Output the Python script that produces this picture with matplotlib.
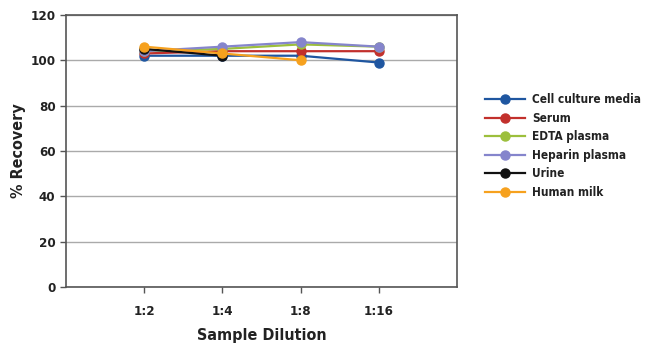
import numpy as np
import matplotlib.pyplot as plt

dilutions = ['1:2', '1:4', '1:8', '1:16']
series_names = ['Cell culture media', 'Serum', 'EDTA plasma', 'Heparin plasma', 'Urine', 'Human milk']

cell_culture = [102, 102, 102, 99]
serum = [103, 104, 104, 104]
edta_plasma = [104, 105, 107, 106]
heparin_plasma = [104, 106, 108, 106]
urine = [105, 102, np.nan, np.nan]
human_milk = [106, 103, 100, np.nan]

colors = ['#1f56a0', '#c2302c', '#9cbf3c', '#8585cc', '#111111', '#f6a11e']

plt.rcParams['font.family'] = ['DejaVu Sans']
plt.rcParams['font.stretch'] = 'condensed'
plt.rcParams['font.weight'] = 'bold'

fig = plt.figure(figsize=(6.5, 3.55), dpi=100)
ax = fig.add_axes([0.1015, 0.1915, 0.6015, 0.7665])

x = np.arange(1, len(dilutions) + 1)
all_series = [cell_culture, serum, edta_plasma, heparin_plasma, urine, human_milk]
for vals, name, c in zip(all_series, series_names, colors):
    ax.plot(x, vals, color=c, lw=1.6, marker='o', ms=6.5, label=name)

ax.set_xlim(0, 5)
ax.set_ylim(0, 120)
ax.set_yticks(range(0, 121, 20))
ax.set_xticks(x)
ax.set_xticklabels(dilutions)
ax.yaxis.grid(True, color='#aaaaaa', lw=1)
ax.set_axisbelow(True)
for s in ax.spines.values():
    s.set_color('#555555')
    s.set_linewidth(1.2)
ax.tick_params(axis='both', colors='#555555', labelcolor='#222222', labelsize=9.5, length=4, width=1)
ax.tick_params(axis='x', pad=9)
ax.set_xlabel('Sample Dilution', fontsize=11.5, fontweight='bold', color='#222222', labelpad=7)
ax.set_ylabel('% Recovery', fontsize=11.5, fontweight='bold', color='#222222', labelpad=3)

leg = ax.legend(loc='center left', bbox_to_anchor=(1.06, 0.518), frameon=False,
                fontsize=8.5, handlelength=3.4, labelspacing=0.46, handletextpad=0.6,
                borderaxespad=0)
for t in leg.get_texts():
    t.set_color('#222222')

fig.savefig('out.png', dpi=100)
